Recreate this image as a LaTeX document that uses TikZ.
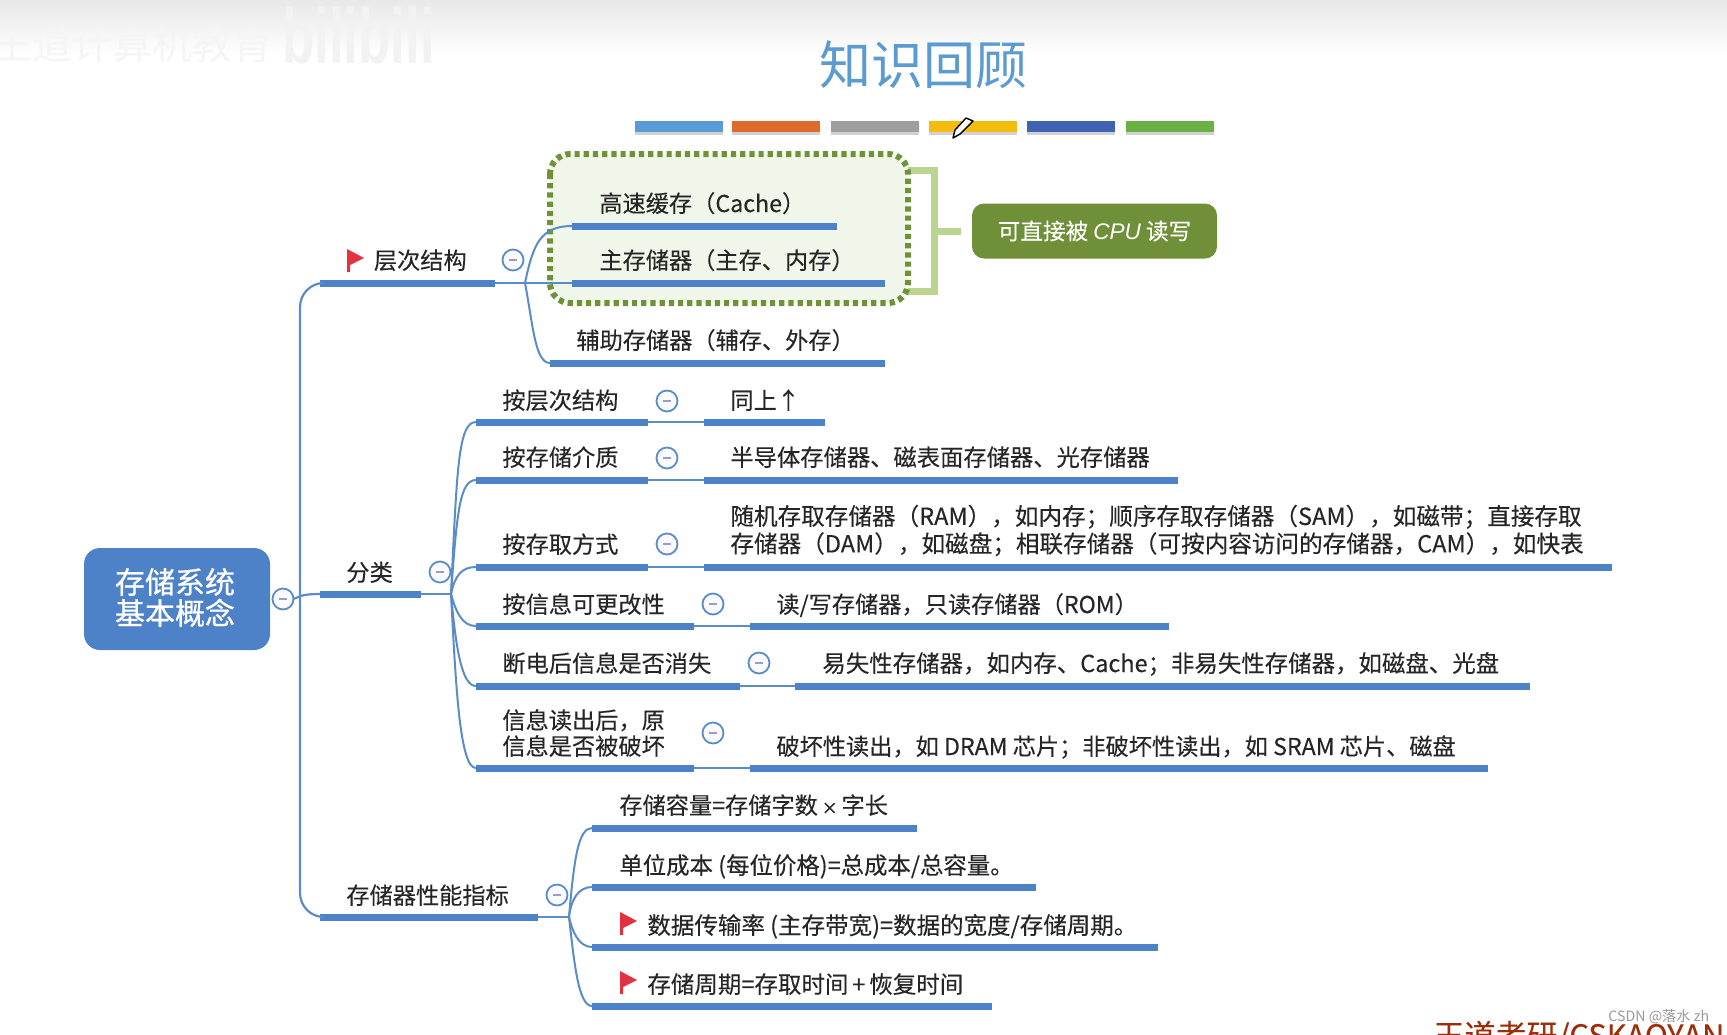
\documentclass[tikz,border=0pt]{standalone}
\usepackage{fontspec}
\setmainfont{Noto Sans CJK SC}[FakeBold=0.25]
\newfontfamily\plainf{Noto Sans CJK SC}
\newfontfamily\strongf{Noto Sans CJK SC}[FakeBold=0.7]
\newfontfamily\latinf{Liberation Sans}
\usetikzlibrary{calc}
\definecolor{mblue}{HTML}{4E82C8}
\definecolor{lblue}{HTML}{5A8CC8}
\definecolor{titleblue}{HTML}{5B9BD0}
\definecolor{dgreen}{HTML}{6F9236}
\definecolor{lgreen}{HTML}{BAD58F}
\definecolor{palegreen}{HTML}{F1F6EA}
\definecolor{boxgreen}{HTML}{6F9038}
\definecolor{flagred}{HTML}{E2323F}
\definecolor{txt}{HTML}{262626}
\definecolor{swa}{HTML}{5B9BD5}
\definecolor{swb}{HTML}{DE6A2B}
\definecolor{swc}{HTML}{9E9E9E}
\definecolor{swd}{HTML}{F5BC10}
\definecolor{swe}{HTML}{3F62B3}
\definecolor{swf}{HTML}{6AB045}
\definecolor{brandc}{HTML}{9C2E0C}
\tikzset{
  tx/.style={anchor=base west,inner sep=0pt,text=txt,font=\fontsize{11.6}{13}\selectfont},
  txm/.style={anchor=west,inner sep=0pt,text=txt,align=left,font=\fontsize{11.6}{13}\selectfont},
  barnode/.style={anchor=west,inner sep=0pt,outer sep=0pt,fill=mblue,minimum height=3.5pt},
  thin link/.style={draw=lblue,line width=1pt},
  link/.style={draw=lblue,line width=1.1pt},
  collapse/.style={circle,draw=lblue,line width=.9pt,fill=blue!2,minimum size=10.5pt,inner sep=0pt,
    path picture={\draw[gray!70!blue!60,line width=.8pt] ($(path picture bounding box.center)+(-2pt,0)$) -- ($(path picture bounding box.center)+(2pt,0)$);}},
  swatch/.style={anchor=north west,inner sep=0pt,outer sep=0pt,minimum width=44pt,minimum height=5.4pt},
}
\newcommand{\mbar}[4]{\node[barnode,minimum width={(#3-#2)*0.5pt}] (#1) at (#2,#4) {};}
\newcommand{\mflag}[2]{\fill[flagred] (#1,#2) -- (#1+17,#2+9) -- (#1+3,#2+16) -- (#1+3,#2+23) -- (#1,#2+23) -- cycle;}
\newcommand{\swatchbar}[3]{\fill[gray!35] (#2,124) rectangle ++(88,11);\node[swatch,fill=#3] (#1) at (#2,121) {};}
\begin{document}
\begin{tikzpicture}[x=0.5pt,y=-0.5pt]
\useasboundingbox (0,0) rectangle (1727,1034);
\clip (0,0) rectangle (1727,1034);
\shade[top color=black!9,bottom color=white] (0,0) rectangle (1727,56);
% watermark
\node[anchor=west,inner sep=0pt,text=black!4,font=\plainf\fontsize{20}{21}\selectfont] (wm) at (-8,44) {王道计算机教育};
\node[anchor=west,inner sep=0pt,text=black!5,xscale=.88,yscale=1.3,font=\latinf\bfseries\fontsize{30}{31}\selectfont] (wmb) at (282,36) {bilibili};
% title
\node[inner sep=0pt,text=titleblue,font=\plainf\fontsize{26}{28}\selectfont] (title) at (923,65) {知识回顾};
% swatches
\swatchbar{s1}{635}{swa}
\swatchbar{s2}{732}{swb}
\swatchbar{s3}{831}{swc}
\swatchbar{s4}{929}{swd}
\swatchbar{s5}{1027}{swe}
\swatchbar{s6}{1126}{swf}
% pencil
\filldraw[fill=white,draw=black,line width=.7pt,line join=round] (966,118) -- (973,121) -- (960,134) -- (953,138) -- (955,130) -- cycle;
% dotted group + bracket
\draw[lgreen,line width=3.5pt] (908,170) -- (934,170) -- (934,291) -- (908,291);
\draw[lgreen,line width=3.5pt] (934,231) -- (961,231);
\draw[fill=palegreen,draw=dgreen,line width=3pt,dash pattern=on 2.6pt off 2pt,rounded corners=10pt] (550,154) rectangle (908,303);
\node[fill=boxgreen,text=white,rounded corners=6pt,inner sep=0pt,minimum width=122.5pt,minimum height=27.5pt,
  font=\fontsize{11.3}{13}\selectfont] (cpu) at (1094.5,231) {可直接被 {\latinf\itshape CPU} 读写};
% root
\node[fill=mblue,text=white,rounded corners=8pt,inner sep=0pt,minimum width=93pt,minimum height=51pt] (root) at (177,599) {};
\node[text=white,inner sep=0pt,align=center,font=\strongf\fontsize{15}{15.5}\selectfont] (rootlabel) at (175,597.5) {存储系统\\基本概念};
% bars
\mbar{l1}{320}{495}{283}
\mbar{cache}{572}{837}{226}
\mbar{main}{572}{885}{283}
\mbar{aux}{550}{885}{363}
\mbar{l2}{320}{421}{594}
\mbar{a1}{476}{648}{422}  \mbar{b1}{704}{825}{422}
\mbar{a2}{476}{648}{480}  \mbar{b2}{704}{1178}{480}
\mbar{a3}{476}{648}{567}  \mbar{b3}{704}{1612}{567}
\mbar{a4}{476}{694}{626}  \mbar{b4}{750}{1169}{626}
\mbar{a5}{476}{740}{686}  \mbar{b5}{795}{1530}{686}
\mbar{a6}{476}{694}{768}  \mbar{b6}{750}{1488}{768}
\mbar{l3}{320}{538}{917}
\mbar{c1}{592}{917}{828}
\mbar{c2}{592}{1036}{887}
\mbar{c3}{592}{1158}{947}
\mbar{c4}{592}{992}{1006}
% collapse toggles
\node[collapse] (t0) at (283,599) {};
\node[collapse] (t1) at (513,260) {};
\node[collapse] (t2) at (440,572) {};
\node[collapse] (t21) at (667,401) {};
\node[collapse] (t22) at (667,458) {};
\node[collapse] (t23) at (667,544) {};
\node[collapse] (t24) at (713,604) {};
\node[collapse] (t25) at (759,663) {};
\node[collapse] (t26) at (713,733) {};
\node[collapse] (t3) at (557,895) {};
% fork points
\coordinate (trunk) at (293,599);
\coordinate (f1) at (525,283);
\coordinate (f2) at (451,594);
\coordinate (f3) at (569,917);
% connectors
\draw[link] (t0.east) -- (trunk);
\draw[link] (trunk) .. controls (300,597) and (300,594) .. (l2.west);
\draw[link,rounded corners=12pt] (l1.west) -- (300,283) -- (300,917) -- (l3.west);
\draw[thin link] (l1.east) -- (main.west);
\draw[thin link] (f1) .. controls (533,245) and (540,226) .. (cache.west);
\draw[thin link] (f1) .. controls (533,325) and (535,363) .. (aux.west);
\draw[thin link] (l2.east) -- (f2);
\draw[thin link] (f2) .. controls (457,470) and (458,422) .. (a1.west);
\draw[thin link] (f2) .. controls (457,510) and (460,480) .. (a2.west);
\draw[thin link] (f2) .. controls (455,575) and (462,567) .. (a3.west);
\draw[thin link] (f2) .. controls (456,612) and (462,626) .. (a4.west);
\draw[thin link] (f2) .. controls (456,650) and (462,686) .. (a5.west);
\draw[thin link] (f2) .. controls (456,690) and (460,768) .. (a6.west);
\foreach \i in {1,...,6} {\draw[thin link] (a\i.east) -- (b\i.west);}
\draw[thin link] (l3.east) -- (f3);
\draw[thin link] (f3) .. controls (574,860) and (578,828) .. (c1.west);
\draw[thin link] (f3) .. controls (571,900) and (578,887) .. (c2.west);
\draw[thin link] (f3) .. controls (572,930) and (578,947) .. (c3.west);
\draw[thin link] (f3) .. controls (574,960) and (578,1006) .. (c4.west);
% flags
\mflag{347}{249}
\mflag{620}{912}
\mflag{620}{971}
% texts
\node[tx] (x1) at (373.5,269) {层次结构};
\node[tx] (x11) at (599,212) {高速缓存（Cache）};
\node[tx] (x12) at (599,269) {主存储器（主存、内存）};
\node[tx] (x13) at (576,349) {辅助存储器（辅存、外存）};
\node[tx] (x2) at (346,581) {分类};
\node[tx] (x21) at (502,409) {按层次结构};
\node[tx] (y21) at (730,409) {同上↑};
\node[tx] (x22) at (502,466) {按存储介质};
\node[tx,font=\fontsize{11.65}{13}\selectfont] (y22) at (730,466) {半导体存储器、磁表面存储器、光存储器};
\node[tx] (x23) at (502,553) {按存取方式};
\node[txm,font=\fontsize{11.8}{13.75}\selectfont] (y23) at (730,530.5) {随机存取存储器（RAM），如内存；顺序存取存储器（SAM），如磁带；直接存取\\存储器（DAM），如磁盘；相联存储器（可按内容访问的存储器，CAM），如快表};
\node[tx] (x24) at (502,613) {按信息可更改性};
\node[tx] (y24) at (776,613) {读/写存储器，只读存储器（ROM）};
\node[tx] (x25) at (502,672) {断电后信息是否消失};
\node[tx,font=\fontsize{11.72}{13}\selectfont] (y25) at (822,672) {易失性存储器，如内存、Cache；非易失性存储器，如磁盘、光盘};
\node[txm] (x26) at (502,733) {信息读出后，原\\信息是否被破坏};
\node[tx] (y26) at (776,755) {破坏性读出，如 DRAM 芯片；非破坏性读出，如 SRAM 芯片、磁盘};
\node[tx] (x3) at (346,904) {存储器性能指标};
\node[tx] (z1) at (619,814) {存储容量=存储字数\,{\fontsize{8}{8}\selectfont ×}\,字长};
\node[tx,font=\fontsize{11.7}{13}\selectfont] (z2) at (619,874) {单位成本 (每位价格)=总成本/总容量。};
\node[tx,font=\fontsize{11.75}{13}\selectfont] (z3) at (647,934) {数据传输率 (主存带宽)=数据的宽度/存储周期。};
\node[tx,font=\fontsize{11.75}{13}\selectfont] (z4) at (647,993) {存储周期=存取时间\,+\,恢复时间};
% corner
\node[anchor=base west,inner sep=0pt,text=brandc,font=\fontsize{15.5}{16}\selectfont] (brand) at (1433,1047) {王道考研/CSKAOYAN};
\node[anchor=west,inner sep=0pt,text=gray!80,font=\plainf\fontsize{7.1}{8}\selectfont] (csdn) at (1608,1017) {CSDN @落水 zh};
\end{tikzpicture}
\end{document}
